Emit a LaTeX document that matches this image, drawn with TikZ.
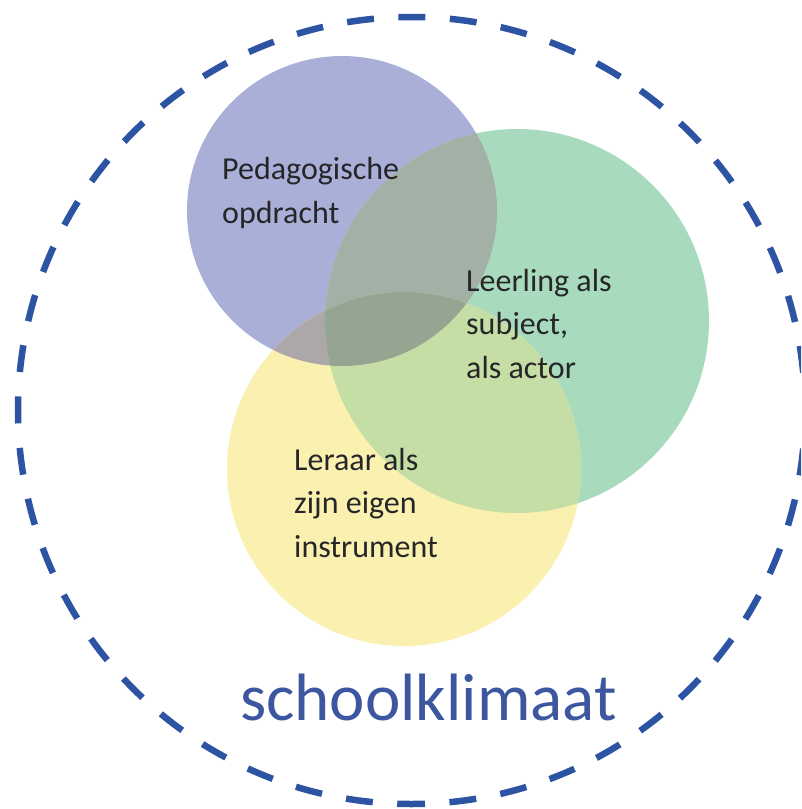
\documentclass[tikz,border=0pt]{standalone}
\usepackage{fontspec}
\setmainfont{Carlito}
\usetikzlibrary{calc}
\definecolor{cB}{RGB}{170,175,216}
\definecolor{cG}{RGB}{168,218,190}
\definecolor{cY}{RGB}{250,240,175}
\definecolor{cBG}{RGB}{162,176,166}
\definecolor{cBY}{RGB}{172,168,170}
\definecolor{cGY}{RGB}{196,222,166}
\definecolor{cBGY}{RGB}{150,164,146}
\definecolor{txt}{RGB}{38,38,40}
\definecolor{dashblue}{RGB}{45,84,163}
\definecolor{titleblue}{RGB}{60,86,160}
\tikzset{
  label text/.style={anchor=base west, align=left, text=txt, inner sep=0pt,
    font=\fontsize{32}{43.5}\selectfont},
  title text/.style={anchor=base west, inner sep=0pt, text=titleblue,
    font=\fontsize{67}{70}\selectfont},
  outer ring/.style={draw=dashblue, line width=6.5pt, dash pattern=on 27pt off 24.5pt, dash phase=13.5pt}
}
\begin{document}
\begin{tikzpicture}[x=1pt,y=-1pt]
\useasboundingbox (0,0) rectangle (801,809);
\clip (0,0) rectangle (801,809);
\coordinate (cb) at (342,211);
\coordinate (cg) at (517,321);
\coordinate (cy) at (404,469);
\coordinate (co) at (411.5,410.5);
% base fills
\fill[cB] (cb) circle[radius=155];
\fill[cG] (cg) circle[radius=192];
\fill[cY] (cy) circle[radius=177];
% pairwise overlaps
\begin{scope}
  \clip (cb) circle[radius=155];
  \fill[cBG] (cg) circle[radius=192];
  \fill[cBY] (cy) circle[radius=177];
\end{scope}
\begin{scope}
  \clip (cg) circle[radius=192];
  \fill[cGY] (cy) circle[radius=177];
\end{scope}
% triple overlap
\begin{scope}
  \clip (cb) circle[radius=155];
  \clip (cg) circle[radius=192];
  \fill[cBGY] (cy) circle[radius=177];
\end{scope}
% dashed outer ring (start at the bottom so a dash is centred there)
\draw[outer ring] ($(co)+(0,393.5)$) arc[start angle=90, end angle=-270, radius=393.5];
% labels (base anchor = baseline of the last line)
\node[label text] (ped) at (222,223) {Pedagogische\\opdracht};
\node[label text] (leer) at (466,378) {Leerling als\\subject,\\als actor};
\node[label text] (lera) at (294,557) {Leraar als\\zijn eigen\\instrument};
\node[title text] (klim) at (240,720) {schoolklimaat};
\end{tikzpicture}
\end{document}
